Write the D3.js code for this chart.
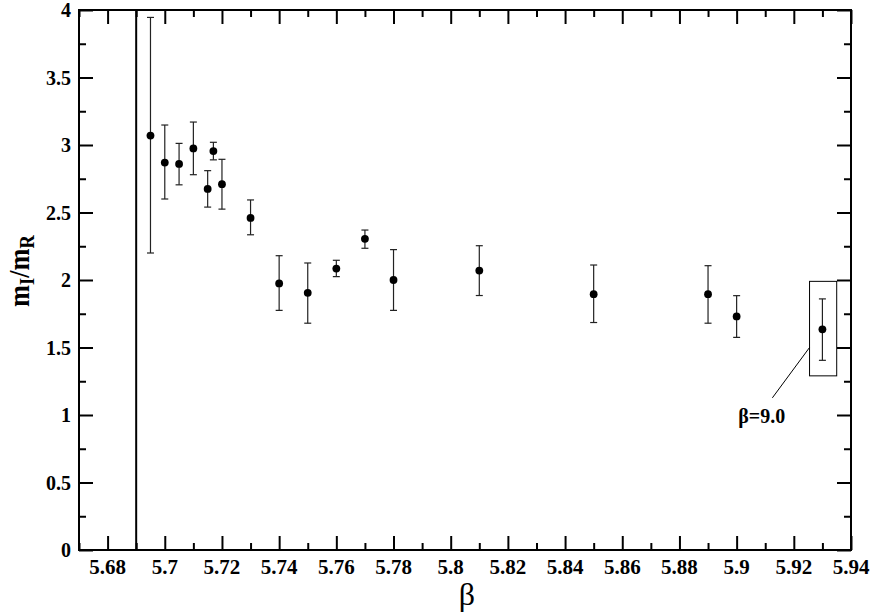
<!DOCTYPE html>
<html>
<head>
<meta charset="utf-8">
<script src="https://cdn.jsdelivr.net/npm/d3@7"></script>
<style>
  body { margin: 0; background: #fff; }
</style>
</head>
<body>
<svg id="plot"></svg>
<script>
const W = 872, H = 615;
const margin = { top: 10, right: 21, bottom: 65, left: 79 };
const width = W - margin.left - margin.right;
const height = H - margin.top - margin.bottom;
const serif = "'Liberation Serif', 'Times New Roman', Times, 'DejaVu Serif', serif";

// data
const beta = [5.695, 5.70, 5.705, 5.71, 5.715, 5.717, 5.72, 5.73, 5.74, 5.75, 5.76, 5.77, 5.78, 5.81, 5.85, 5.89, 5.90, 5.93];
const ratio = [3.07, 2.87, 2.86, 2.975, 2.675, 2.955, 2.71, 2.46, 1.975, 1.905, 2.085, 2.305, 2.0, 2.07, 1.895, 1.895, 1.73, 1.635];
const errLow = [2.20, 2.60, 2.705, 2.78, 2.54, 2.89, 2.525, 2.335, 1.775, 1.68, 2.025, 2.235, 1.775, 1.885, 1.685, 1.68, 1.575, 1.405];
const errHigh = [3.945, 3.148, 3.012, 3.17, 2.81, 3.02, 2.894, 2.593, 2.18, 2.126, 2.146, 2.37, 2.225, 2.254, 2.111, 2.106, 1.884, 1.86];

const xMajor = [5.68, 5.70, 5.72, 5.74, 5.76, 5.78, 5.80, 5.82, 5.84, 5.86, 5.88, 5.90, 5.92, 5.94];
const xMinor = [5.67, 5.69, 5.71, 5.73, 5.75, 5.77, 5.79, 5.81, 5.83, 5.85, 5.87, 5.89, 5.91, 5.93];
const xLabels = ["5.68", "5.7", "5.72", "5.74", "5.76", "5.78", "5.8", "5.82", "5.84", "5.86", "5.88", "5.9", "5.92", "5.94"];
const yMajor = [0, 0.5, 1, 1.5, 2, 2.5, 3, 3.5, 4];
const yMinor = [0.25, 0.75, 1.25, 1.75, 2.25, 2.75, 3.25, 3.75];
const yLabels = ["0", "0.5", "1", "1.5", "2", "2.5", "3", "3.5", "4"];

const criticalBeta = 5.69;
const boxX = [5.9255, 5.935];
const boxY = [1.29, 1.99];
const noteText = "β=9.0";

const svg = d3.select("#plot").attr("width", W).attr("height", H);
const g = svg.append("g").attr("transform", `translate(${margin.left},${margin.top})`);

const x = d3.scaleLinear().domain([5.67, 5.94]).range([0, width]);
const y = d3.scaleLinear().domain([0, 4]).range([height, 0]);

const major = 14, minor = 7;

// ticks, all pointing inward, on all four sides
const axes = [
  [d3.axisTop(x), xMajor, major, `translate(0,${height})`],
  [d3.axisTop(x), xMinor, minor, `translate(0,${height})`],
  [d3.axisBottom(x), xMajor, major, null],
  [d3.axisBottom(x), xMinor, minor, null],
  [d3.axisRight(y), yMajor, major, null],
  [d3.axisRight(y), yMinor, minor, null],
  [d3.axisLeft(y), yMajor, major, `translate(${width},0)`],
  [d3.axisLeft(y), yMinor, minor, `translate(${width},0)`],
];
axes.forEach(([fn, vals, len, tr]) => {
  const a = g.append("g").call(fn.tickValues(vals).tickSize(len).tickFormat(""));
  if (tr) a.attr("transform", tr);
  a.select(".domain").remove();
  a.selectAll("line").attr("stroke", "#000").attr("stroke-width", 2);
});

// frame
g.append("rect")
  .attr("x", 0).attr("y", 0)
  .attr("width", width).attr("height", height)
  .attr("fill", "none").attr("stroke", "#000").attr("stroke-width", 2);

// tick labels
g.selectAll(".xlab")
  .data(xMajor)
  .enter()
  .append("text")
  .attr("x", (d) => x(d))
  .attr("y", height + 24)
  .attr("text-anchor", "middle")
  .style("font-family", serif)
  .style("font-size", "21px")
  .style("font-weight", "bold")
  .text((d, i) => xLabels[i]);

g.selectAll(".ylab")
  .data(yMajor)
  .enter()
  .append("text")
  .attr("x", -8)
  .attr("y", (d) => y(d) + 7)
  .attr("text-anchor", "end")
  .style("font-family", serif)
  .style("font-size", "20px")
  .style("font-weight", "bold")
  .text((d, i) => yLabels[i]);

// axis titles
g.append("text")
  .attr("x", width / 2 + 2)
  .attr("y", height + 55)
  .attr("text-anchor", "middle")
  .style("font-family", serif)
  .style("font-size", "32px")
  .text("β");

const yt = g.append("text")
  .attr("transform", `translate(${-50},${height / 2 - 9}) rotate(-90) scale(0.88,1)`)
  .attr("text-anchor", "middle")
  .style("font-family", serif)
  .style("font-size", "30px")
  .style("font-weight", "bold");
yt.append("tspan").text("m");
yt.append("tspan").attr("dy", 5).style("font-size", "21px").text("I");
yt.append("tspan").attr("dy", -5).text("/m");
yt.append("tspan").attr("dy", 5).style("font-size", "21px").text("R");

// vertical line at critical beta
g.append("line")
  .attr("x1", x(criticalBeta)).attr("x2", x(criticalBeta))
  .attr("y1", 0).attr("y2", height)
  .attr("stroke", "#000").attr("stroke-width", 2);

// error bars
const pts = beta.map((b, i) => ({ b, v: ratio[i], lo: errLow[i], hi: errHigh[i] }));
const eb = g.selectAll(".err").data(pts).enter().append("g").attr("stroke", "#222").attr("stroke-width", 1.2);
eb.append("line")
  .attr("x1", (d) => x(d.b)).attr("x2", (d) => x(d.b))
  .attr("y1", (d) => y(d.lo)).attr("y2", (d) => y(d.hi));
eb.append("line")
  .attr("x1", (d) => x(d.b) - 3.5).attr("x2", (d) => x(d.b) + 3.5)
  .attr("y1", (d) => y(d.hi)).attr("y2", (d) => y(d.hi));
eb.append("line")
  .attr("x1", (d) => x(d.b) - 3.5).attr("x2", (d) => x(d.b) + 3.5)
  .attr("y1", (d) => y(d.lo)).attr("y2", (d) => y(d.lo));

g.selectAll(".pt")
  .data(pts)
  .enter()
  .append("circle")
  .attr("cx", (d) => x(d.b))
  .attr("cy", (d) => y(d.v))
  .attr("r", 3.9)
  .attr("fill", "#000");

// annotation box + pointer
g.append("rect")
  .attr("x", x(boxX[0])).attr("y", y(boxY[1]))
  .attr("width", x(boxX[1]) - x(boxX[0]))
  .attr("height", y(boxY[0]) - y(boxY[1]))
  .attr("fill", "none").attr("stroke", "#000").attr("stroke-width", 1);

g.append("line")
  .attr("x1", x(boxX[0])).attr("y1", y(1.5))
  .attr("x2", x(5.9125)).attr("y2", y(1.127))
  .attr("stroke", "#000").attr("stroke-width", 1);

g.append("text")
  .attr("x", x(5.9088))
  .attr("y", y(0.943))
  .attr("text-anchor", "middle")
  .style("font-family", serif)
  .style("font-size", "20px")
  .style("font-weight", "bold")
  .text(noteText);
</script>
</body>
</html>
